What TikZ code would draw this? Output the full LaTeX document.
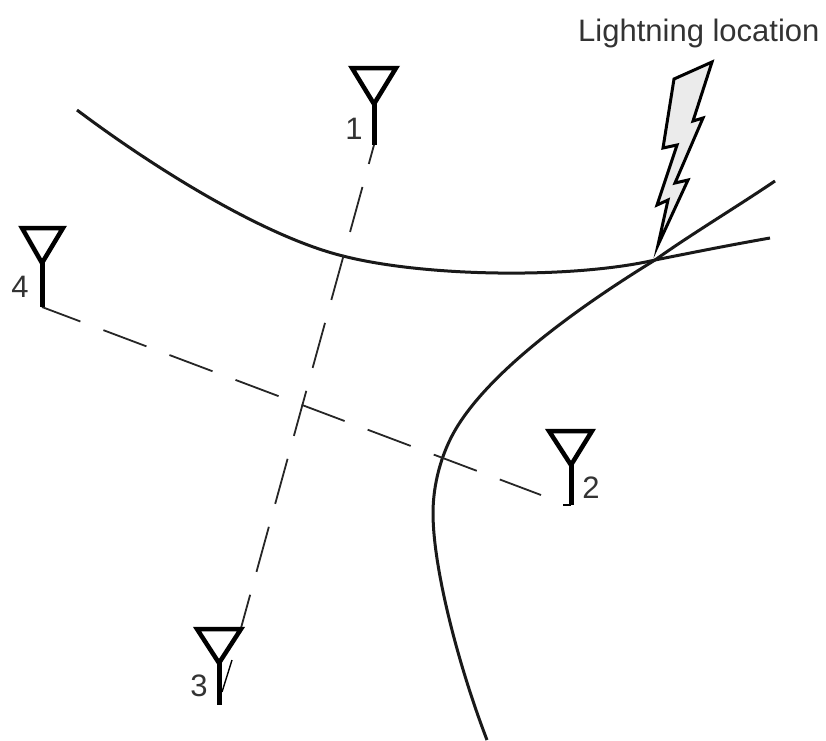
\documentclass[tikz,border=0pt]{standalone}
\usepackage{fontspec}
\setmainfont{Liberation Sans}
\usepackage{tikz}
\usetikzlibrary{positioning}

\begin{document}
\begin{tikzpicture}[x=1pt, y=-1pt,
        curve/.style={line width=3pt, black!90},
        baseline path/.style={line width=1.8pt, black!85},
        antenna/.style={line width=4.5pt, line join=miter},
        stem/.style={line width=5pt},
        label/.style={font=\fontsize{31}{31}\selectfont, text=black!80, inner sep=0pt}]

        \useasboundingbox (0,0) rectangle (826,740);

        % station positions
        \coordinate (s1) at (374,145);
        \coordinate (s2) at (571,505);
        \coordinate (s3) at (219,705);
        \coordinate (s4) at (42,307);
        \coordinate (strike) at (655,260);
        \coordinate (end13) at (241,628);
        \coordinate (end42) at (541,495);

        % hyperbolas
        \draw[curve] (77,110) .. controls (150,165) and (262,236) .. (343,256)
            .. controls (425,277) and (572,279) .. (strike)
            .. controls (690,253) and (730,245) .. (770,238);
        \draw[curve] (775,181) .. controls (735,208) and (690,235) .. (strike)
            .. controls (590,300) and (495,365) .. (457,427)
            .. controls (441,453) and (433,485) .. (433,513)
            .. controls (433,570) and (460,670) .. (487,740);

        % baselines
        \draw[baseline path, dash pattern=on 46.7pt off 23.8pt, dash phase=27pt] (s1) -- (end13);
        \draw[baseline path, dash pattern=on 46pt off 24.6pt, dash phase=5pt] (s4) -- (end42);
        \draw[line width=1.4pt] (232,660) -- (222,692);

        % antennas
        \draw[antenna] (352,68) -- (396,68) -- (374,104) -- cycle;
        \draw[stem] (374,102) -- (s1);
        \draw[antenna] (549,431) -- (592,431) -- (571,465) -- cycle;
        \draw[stem] (571,463) -- (s2);
        \draw[line width=2.5pt] (s2) -- (563,505);
        \draw[antenna] (197,629) -- (241,629) -- (219,663) -- cycle;
        \draw[stem] (219,661) -- (s3);
        \draw[antenna] (22,228) -- (63,228) -- (42,263) -- cycle;
        \draw[stem] (42,261) -- (s4);

        % lightning bolt
        \draw[line width=3pt, fill=black!8, line join=miter]
            (712,62) -- (674,79) -- (663,148) -- (677,145) -- (657,205) -- (668,200)
            -- (658,245) -- (688,180) -- (675,183) -- (703,118) -- (693,121) -- cycle;

        \node[label] (one) at (354,129) {1};
        \node[label] (two) at (591,488) {2};
        \node[label] (three) at (199,686) {3};
        \node[label] (four) at (20,287) {4};
        \node[label, anchor=base west] (title) at (578,41) {Lightning location};
    \end{tikzpicture}
\end{document}
